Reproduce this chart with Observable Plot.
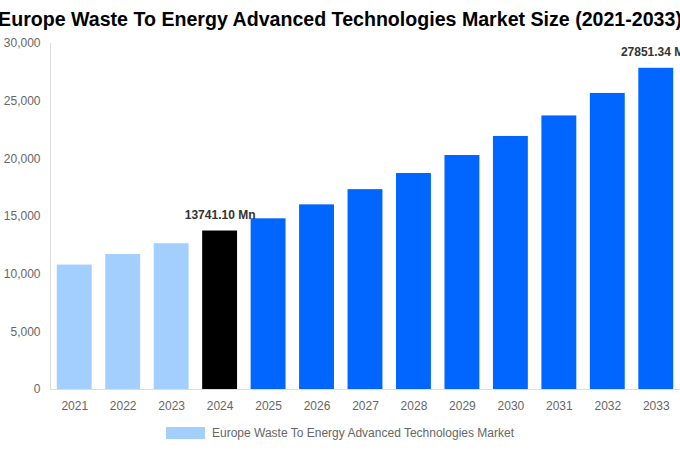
<!DOCTYPE html>
<html>
<head>
<meta charset="utf-8">
<script src="https://cdn.jsdelivr.net/npm/d3@7"></script>
<script src="https://cdn.jsdelivr.net/npm/@observablehq/plot@0.6"></script>
<style>
  body { margin: 0; background: #fff; font-family: "Liberation Sans", Arial, sans-serif; }
  #wrap { width: 680px; overflow: hidden; }
  #title { height: 30px; padding-top: 4px; display: flex; justify-content: center; align-items: center; white-space: nowrap; font-weight: bold; font-size: 19.6px; color: #000; }
  #legend { height: 24px; display: flex; justify-content: center; align-items: center; font-size: 12px; color: #666; margin-top: 2px; }
  #legend .sw { width: 39px; height: 12px; background: #a3cfff; margin-right: 7px; }
</style>
</head>
<body>
<div id="wrap">
  <div id="title">Europe Waste To Energy Advanced Technologies Market Size (2021-2033)</div>
  <div id="chart"></div>
  <div id="legend"><span class="sw"></span><span>Europe Waste To Energy Advanced Technologies Market</span></div>
</div>
<script>
const years = ["2021","2022","2023","2024","2025","2026","2027","2028","2029","2030","2031","2032","2033"];
const values = [10790, 11700, 12640, 13741.10, 14800, 16010, 17330, 18730, 20290, 21940, 23720, 25670, 27851.34];
const barColors = ["#a3cfff","#a3cfff","#a3cfff","#000000","#0066ff","#0066ff","#0066ff","#0066ff","#0066ff","#0066ff","#0066ff","#0066ff","#0066ff"];
const labelYears = ["2024", "2033"];
const yTicks = [0, 5000, 10000, 15000, 20000, 25000, 30000];

const data = years.map((y, i) => ({year: y, value: values[i], color: barColors[i]}));
const labels = data.filter(d => labelYears.includes(d.year));

const W = 680, ML = 50, MR = 0, PI = 0.28, PO = 0.14;
const step = (W - ML - MR) / (years.length - PI + 2 * PO);
const axisDx = -(PO * step + (1 - PI) * step / 2);

const chart = Plot.plot({
  width: W,
  height: 385,
  marginTop: 9,
  marginLeft: ML,
  marginRight: MR,
  marginBottom: 30,
  style: {fontFamily: "'Liberation Sans', Arial, sans-serif", fontSize: "12px", color: "#666", overflow: "hidden"},
  x: {domain: years, paddingInner: PI, paddingOuter: PO, round: false, label: null, tickSize: 0, tickPadding: 12},
  y: {domain: [0, 30000], ticks: yTicks, tickFormat: d3.format(","), label: null, tickSize: 0, tickPadding: 10},
  marks: [
    Plot.barY(data, {x: "year", y: "value", fill: d => d.color}),
    Plot.ruleY([0], {stroke: "#ddd"}),
    Plot.ruleX([years[0]], {x: d => d, stroke: "#ddd", dx: axisDx, y1: 0, y2: 30000}),
    Plot.text(labels, {x: "year", y: "value", text: d => d.value.toFixed(2) + " Mn", dy: -16, fontWeight: "bold", fill: "#333", fontSize: 12})
  ]
});
document.getElementById("chart").appendChild(chart);
</script>
</body>
</html>
